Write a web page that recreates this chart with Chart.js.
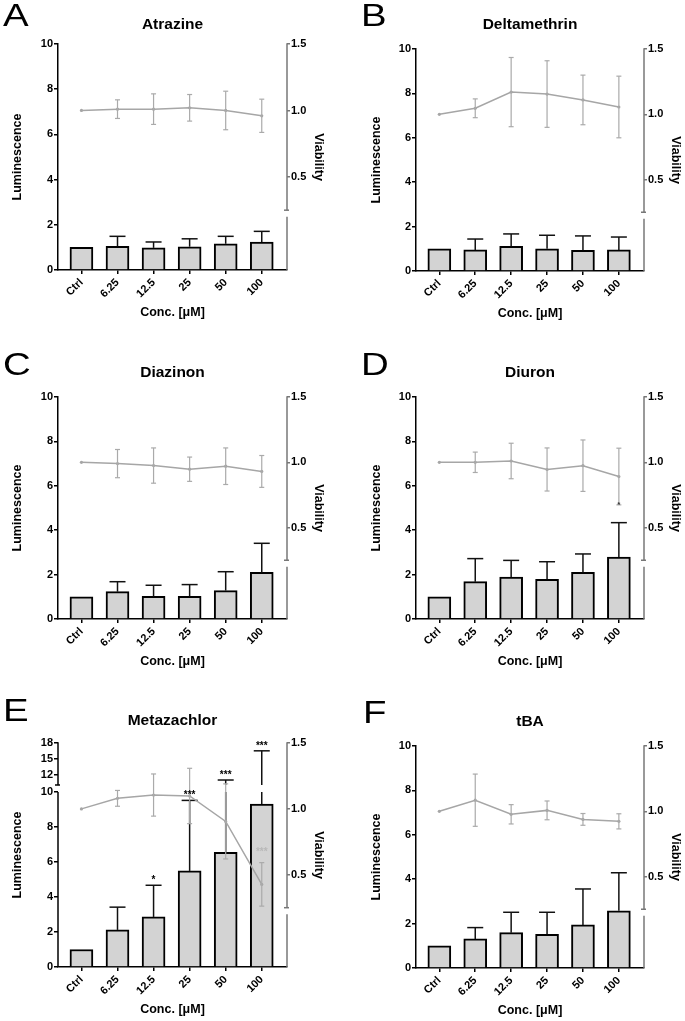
<!DOCTYPE html>
<html>
<head>
<meta charset="utf-8">
<script src="https://cdn.jsdelivr.net/npm/chart.js@4.4.1/dist/chart.umd.min.js"></script>
<style>
  html, body { margin: 0; padding: 0; background: #fff; }
  #fig { position: relative; width: 685px; height: 1021px; overflow: hidden; }
  #fig canvas { position: absolute; }
  .lt { position: absolute; font: 32px "Liberation Sans", Arial, sans-serif; line-height: 32px;
        transform: scaleX(1.2); transform-origin: 0 0; color: #000; }
</style>
</head>
<body>
<div id="fig"></div>
<script>
/* Luminescence (bars, mean + SD) and viability (line, mean ± SD) per compound */
const doses = ["Ctrl", "6.25", "12.5", "25", "50", "100"];
const lumTicks = [0, 2, 4, 6, 8, 10];
const lumTicksBroken = [0, 2, 4, 6, 8, 10, 12, 15, 18];
const viaTicks = [0.5, 1.0, 1.5];

const atrazineLum   = [1.0, 1.05, 0.98, 1.03, 1.16, 1.24];
const atrazineLumSd = [0, 0.44, 0.26, 0.35, 0.33, 0.47];
const atrazineVia   = [1.0, 1.01, 1.01, 1.02, 1.0, 0.96];
const atrazineViaSd = [0, 0.07, 0.115, 0.10, 0.145, 0.125];

const deltaLum   = [1.0, 0.95, 1.11, 1.0, 0.93, 0.95];
const deltaLumSd = [0, 0.49, 0.56, 0.61, 0.65, 0.58];
const deltaVia   = [1.0, 1.046, 1.17, 1.155, 1.11, 1.056];
const deltaViaSd = [0, 0.072, 0.265, 0.255, 0.19, 0.236];

const diazLum   = [1.0, 1.23, 1.02, 1.02, 1.28, 2.10];
const diazLumSd = [0, 0.45, 0.50, 0.53, 0.85, 1.31];
const diazVia   = [1.0, 0.99, 0.975, 0.947, 0.97, 0.93];
const diazViaSd = [0, 0.108, 0.135, 0.093, 0.14, 0.122];

const diurLum   = [1.0, 1.68, 1.89, 1.79, 2.10, 2.79];
const diurLumSd = [0, 1.04, 0.75, 0.79, 0.83, 1.55];
const diurVia   = [1.0, 1.0, 1.01, 0.945, 0.974, 0.891];
const diurViaSd = [0, 0.078, 0.136, 0.165, 0.197, 0.217];
const diurViaSig = ["", "", "", "", "", "*"];

const metaLum   = [1.0, 2.12, 2.86, 5.49, 6.55, 9.31];
const metaLumSd = [0, 1.30, 1.81, 4.03, 4.4, 7.2];
const metaVia   = [1.0, 1.08, 1.105, 1.098, 0.905, 0.427];
const metaViaSd = [0, 0.06, 0.16, 0.21, 0.285, 0.165];
const metaLumSig = ["", "", "*", "***", "***", "***"];
const metaViaSig = ["", "", "", "", "", "***"];

const tbaLum   = [1.0, 1.31, 1.59, 1.52, 1.94, 2.58];
const tbaLumSd = [0, 0.51, 0.92, 0.99, 1.62, 1.71];
const tbaVia   = [1.0, 1.085, 0.977, 1.007, 0.938, 0.923];
const tbaViaSd = [0, 0.2, 0.074, 0.072, 0.045, 0.058];

Chart.defaults.font.family = '"Liberation Sans", Arial, sans-serif';
Chart.defaults.font.weight = "bold";
Chart.defaults.color = "#000";

/* linear scale with a gap (broken axis) above brk.at */
class BrokenScale extends Chart.LinearScale {
  getPixelForValue(v) {
    if (v === null || v === undefined) return NaN;
    const b = this.options.brk;
    let d;
    if (v <= b.at) d = (v - this.min) / (b.at - this.min) * b.low;
    else d = b.low + b.gap + (v - b.at) / (this.max - b.at) * (1 - b.low - b.gap);
    return this.getPixelForDecimal(d);
  }
  breakPixels() {
    const b = this.options.brk;
    return [this.getPixelForDecimal(b.low), this.getPixelForDecimal(b.low + b.gap)];
  }
}
BrokenScale.id = "broken";
BrokenScale.defaults = Chart.LinearScale.defaults;
Chart.register(BrokenScale);

function spans(scale, a, b) {
  if (scale.type === "broken") {
    const at = scale.options.brk.at;
    if (a < at && b > at) {
      const [lo, hi] = scale.breakPixels();
      return [[scale.getPixelForValue(a), lo], [hi, scale.getPixelForValue(b)]];
    }
  }
  return [[scale.getPixelForValue(a), scale.getPixelForValue(b)]];
}

function seg(ctx, x0, y0, x1, y1) {
  ctx.beginPath(); ctx.moveTo(x0, y0); ctx.lineTo(x1, y1); ctx.stroke();
}

/* broken right axis, broken left axis for E */
const axisBreaks = {
  id: "axisBreaks",
  beforeDatasetsDraw(chart) {
    const ctx = chart.ctx, area = chart.chartArea;
    const r = chart.scales.y2, l = chart.scales.y;
    ctx.save();
    ctx.lineWidth = 1.5;
    ctx.strokeStyle = "#777";
    const rx = r.left;
    const hi = r.getPixelForValue(0.25);
    seg(ctx, rx, r.getPixelForValue(r.max) - 0.75, rx, hi);
    seg(ctx, rx - 3, hi, rx + 2, hi);
    seg(ctx, rx, r.getPixelForValue(0.2), rx, area.bottom);
    if (l.type === "broken") {
      const [lo, up] = l.breakPixels();
      const lx = l.right;
      ctx.strokeStyle = "#000";
      seg(ctx, lx, area.bottom, lx, lo);
      seg(ctx, lx, up, lx, l.getPixelForValue(l.max) - 0.75);
      seg(ctx, lx - 3, up, lx + 2, up);
    }
    ctx.restore();
  }
};

const errorBars = {
  id: "errorBars",
  afterDatasetDraw(chart, args) {
    const ds = chart.data.datasets[args.index];
    const ctx = chart.ctx, xs = chart.scales.x, ys = chart.scales[ds.yAxisID];
    ctx.save();
    ctx.strokeStyle = ds.errColor;
    ctx.lineWidth = ds.errWidth;
    ds.data.forEach((p, i) => {
      const sd = ds.sd[i];
      if (!sd) return;
      const x = xs.getPixelForValue(p.x);
      const top = p.y + sd, bot = ds.oneSided ? p.y : p.y - sd;
      spans(ys, bot, top).forEach(([a, b]) => seg(ctx, x, a, x, b));
      const yt = ys.getPixelForValue(top);
      seg(ctx, x - ds.capHalf, yt, x + ds.capHalf, yt);
      if (!ds.oneSided) {
        const yb = ys.getPixelForValue(bot);
        seg(ctx, x - ds.capHalf, yb, x + ds.capHalf, yb);
      }
    });
    ctx.restore();
  },
  afterDatasetsDraw(chart) {
    const ctx = chart.ctx, xs = chart.scales.x;
    chart.data.datasets.forEach((ds) => {
      if (!ds.sig) return;
      const ys = chart.scales[ds.yAxisID];
      ctx.save();
      ctx.fillStyle = ds.sigColor;
      ctx.font = "bold " + ds.sigSize + 'px "Liberation Sans", Arial, sans-serif';
      ctx.textAlign = "center";
      ctx.textBaseline = "alphabetic";
      ds.sig.forEach((s, i) => {
        if (!s) return;
        const p = ds.data[i], sd = ds.sd[i];
        const x = xs.getPixelForValue(p.x);
        const y = ds.sigBelow ? ys.getPixelForValue(p.y - sd) + 2 : ys.getPixelForValue(p.y + sd) - ds.sigGap;
        ctx.fillText(s, x, y);
      });
      ctx.restore();
    });
  }
};

const panels = [
  { letter: "A", title: "Atrazine", lum: atrazineLum, lumSd: atrazineLumSd, via: atrazineVia, viaSd: atrazineViaSd,
    box: { left: 0, x0: 58, x1: 287, y0: 44, y1: 270, titleY: 25, lumX: 18, lx: 3, ly: 3 } },
  { letter: "B", title: "Deltamethrin", lum: deltaLum, lumSd: deltaLumSd, via: deltaVia, viaSd: deltaViaSd,
    box: { left: 342, x0: 416, x1: 644, y0: 49, y1: 271, titleY: 25, lumX: 377, lx: 361, ly: 3 } },
  { letter: "C", title: "Diazinon", lum: diazLum, lumSd: diazLumSd, via: diazVia, viaSd: diazViaSd,
    box: { left: 0, x0: 58, x1: 287, y0: 397, y1: 619, titleY: 373, lumX: 18, lx: 3, ly: 352 } },
  { letter: "D", title: "Diuron", lum: diurLum, lumSd: diurLumSd, via: diurVia, viaSd: diurViaSd,
    viaSig: diurViaSig, viaSigBelow: true, viaSigColor: "#333", viaSigSize: 8,
    box: { left: 342, x0: 416, x1: 644, y0: 397, y1: 619, titleY: 373, lumX: 377, lx: 361, ly: 352 } },
  { letter: "E", title: "Metazachlor", lum: metaLum, lumSd: metaLumSd, via: metaVia, viaSd: metaViaSd,
    lumSig: metaLumSig, viaSig: metaViaSig, viaSigColor: "#b8b8b8", viaSigSize: 10, broken: true,
    box: { left: 0, x0: 58, x1: 287, y0: 743, y1: 967, titleY: 721, lumX: 18, lx: 3, ly: 698 } },
  { letter: "F", title: "tBA", lum: tbaLum, lumSd: tbaLumSd, via: tbaVia, viaSd: tbaViaSd,
    box: { left: 342, x0: 416, x1: 644, y0: 746, y1: 968, titleY: 722, lumX: 377, lx: 363, ly: 700 } }
];

const fig = document.getElementById("fig");
const tickFont = { size: 11, weight: "bold" };
const axisFont = { size: 12.5, weight: "bold" };

panels.forEach((p) => {
  const b = p.box;
  const top = b.titleY - 20;
  const w = b.x1 + 40 - b.left, h = b.y1 + 50 - top;
  const yw = b.x0 - b.left;
  const cv = document.createElement("canvas");
  cv.width = w; cv.height = h;
  cv.style.left = b.left + "px"; cv.style.top = top + "px";
  cv.style.width = w + "px"; cv.style.height = h + "px";
  fig.appendChild(cv);

  const lt = document.createElement("div");
  lt.className = "lt";
  lt.textContent = p.letter;
  lt.style.left = b.lx + "px";
  lt.style.top = (b.ly - 4) + "px";
  fig.appendChild(lt);

  new Chart(cv, {
    type: "bar",
    data: {
      datasets: [
        { type: "bar", label: "Luminescence", yAxisID: "y", order: 1,
          data: p.lum.map((v, i) => ({ x: i, y: v })),
          backgroundColor: "#d3d3d3", borderColor: "#000", borderWidth: 2, barThickness: 23,
          sd: p.lumSd, oneSided: true, errColor: "#111", errWidth: 1.5, capHalf: 8,
          sig: p.lumSig, sigColor: "#000", sigSize: 10, sigGap: 2 },
        { type: "line", label: "Viability", yAxisID: "y2", order: 0,
          data: p.via.map((v, i) => ({ x: i, y: v })),
          borderColor: "#a6a6a6", borderWidth: 1.5, tension: 0,
          pointRadius: 1.6, pointBackgroundColor: "#a6a6a6", pointBorderWidth: 0,
          sd: p.viaSd, oneSided: false, errColor: "#aaa", errWidth: 1.2, capHalf: 2.5,
          sig: p.viaSig, sigColor: p.viaSigColor, sigSize: p.viaSigSize, sigGap: 8, sigBelow: p.viaSigBelow }
      ]
    },
    options: {
      responsive: false, animation: false, events: [],
      layout: { padding: 0 },
      plugins: {
        legend: { display: false },
        tooltip: { enabled: false },
        title: { display: true, text: p.title, fullSize: false, color: "#000",
                 font: { size: 15.5, weight: "bold" },
                 padding: { top: 10.7, bottom: b.y0 - top - 10.7 - 18.6 } }
      },
      scales: {
        x: {
          type: "linear", min: -0.65, max: 5.7, offset: false,
          afterBuildTicks: (s) => { s.ticks = doses.map((_, i) => ({ value: i })); },
          afterFit: (s) => { s.height = 50; },
          ticks: { callback: (v) => doses[v], autoSkip: false, minRotation: 45, maxRotation: 45,
                   padding: 2, font: tickFont, color: "#000" },
          grid: { drawOnChartArea: false, tickLength: 4, color: "#000", lineWidth: 1.5, offset: false },
          border: { display: true, color: "#000", width: 1.5 },
          title: { display: true, text: "Conc. [μM]", font: axisFont, color: "#000", padding: 0 }
        },
        y: {
          type: p.broken ? "broken" : "linear", position: "left", min: 0, max: p.broken ? 18 : 10,
          brk: { at: 10, low: 0.78125, gap: 0.03125 },
          afterBuildTicks: (s) => { s.ticks = (p.broken ? lumTicksBroken : lumTicks).map((v) => ({ value: v })); },
          afterFit: (s) => { s.width = yw; },
          ticks: { font: tickFont, color: "#000", padding: 1 },
          grid: { drawOnChartArea: false, tickLength: 4, color: "#000", lineWidth: 1.5 },
          border: { display: !p.broken, color: "#000", width: 1.5 },
          title: { display: true, text: "Luminescence", font: axisFont, color: "#000",
                   padding: { top: b.lumX - b.left - 7.5, bottom: 0 } }
        },
        y2: {
          type: "linear", position: "right", min: -0.2, max: 1.5,
          afterBuildTicks: (s) => { s.ticks = viaTicks.map((v) => ({ value: v })); },
          afterFit: (s) => { s.width = 40; },
          ticks: { callback: (v) => v.toFixed(1), font: tickFont, color: "#000", padding: 1 },
          grid: { drawOnChartArea: false, tickLength: 3, color: "#777", lineWidth: 1.5 },
          border: { display: false },
          title: { display: true, text: "Viability", font: axisFont, color: "#000",
                   padding: { top: 1.5, bottom: 0 } }
        }
      }
    },
    plugins: [axisBreaks, errorBars]
  });
});
</script>
</body>
</html>
